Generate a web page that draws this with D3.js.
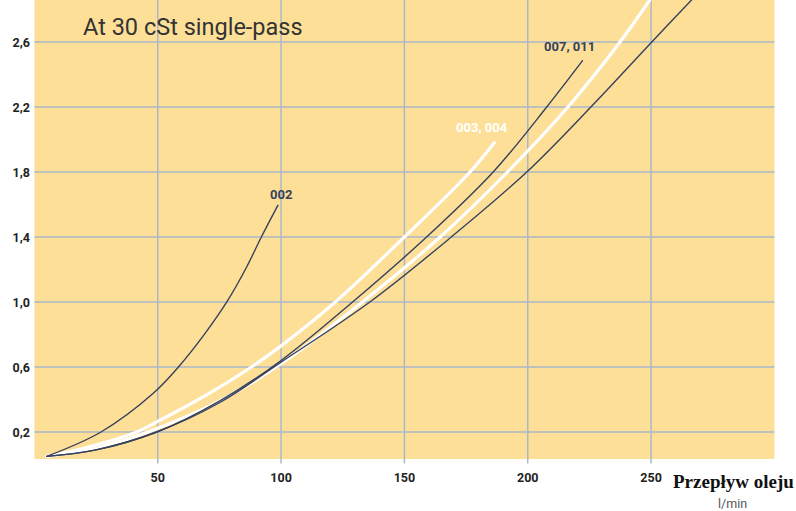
<!DOCTYPE html>
<html>
<head>
<meta charset="utf-8">
<script src="https://cdn.jsdelivr.net/npm/d3@7"></script>
<style>
  body { margin: 0; background: #fff; }
  svg { display: block; }
</style>
</head>
<body>
<script>
// ticks
var xTicks = [50, 100, 150, 200, 250];
var yTicks = [0.2, 0.6, 1.0, 1.4, 1.8, 2.2, 2.6];
var yTickLabels = ["0,2", "0,6", "1,0", "1,4", "1,8", "2,2", "2,6"];

// curves: [flow l/min, pressure]
var curve002 = [[5, 0.05], [27, 0.2], [48.2, 0.438], [58.4, 0.6], [69.2, 0.807], [78, 1.0], [86.1, 1.217], [92, 1.4], [98.7, 1.595]];
var curve003 = [[5, 0.05], [20, 0.1], [41.5, 0.2], [50, 0.265], [70, 0.43], [88, 0.6], [100, 0.73], [122, 1.0], [150, 1.4], [176.6, 1.8], [186.4, 1.98]];
var curve007 = [[5, 0.05], [25, 0.09], [49.6, 0.2], [75, 0.39], [100, 0.64], [129, 1.0], [159, 1.4], [186, 1.8], [207.7, 2.2], [222.2, 2.485]];
var curveWhite = [[5, 0.05], [25, 0.1], [46, 0.2], [75, 0.39], [100, 0.62], [133, 1.0], [164.5, 1.4], [191.8, 1.8], [216.3, 2.2], [237.4, 2.6], [249.5, 2.86]];
var curveLong = [[5, 0.05], [25, 0.09], [49.6, 0.2], [75, 0.38], [100, 0.63], [136, 1.0], [169, 1.4], [199.6, 1.8], [225.6, 2.2], [250.3, 2.6], [266.5, 2.86]];

var W = 796, H = 511;
var plot = {left: 34.4, right: 774.4, top: 0, bottom: 459};
var bg = '#fddf98', gridColor = '#aab9c9', dark = '#37415b';

var svg = d3.select('body').append('svg')
    .attr('width', W)
    .attr('height', H);

var x = d3.scaleLinear().domain([0, 300]).range([plot.left, plot.right]);
var y = d3.scaleLinear().domain([0.0338, 2.8585]).range([plot.bottom, plot.top]);

svg.append('rect')
    .attr('x', plot.left).attr('y', plot.top)
    .attr('width', plot.right - plot.left)
    .attr('height', plot.bottom - plot.top)
    .attr('fill', bg);

svg.append('defs').append('clipPath').attr('id', 'clip')
  .append('rect')
    .attr('x', plot.left).attr('y', plot.top)
    .attr('width', plot.right - plot.left)
    .attr('height', plot.bottom - plot.top);

// grid
svg.append('g').selectAll('line.h')
    .data(yTicks).enter().append('line')
    .attr('x1', plot.left).attr('x2', plot.right)
    .attr('y1', function(d){ return y(d); })
    .attr('y2', function(d){ return y(d); })
    .attr('stroke', gridColor).attr('stroke-width', 1.5);

svg.append('g').selectAll('line.v')
    .data(xTicks).enter().append('line')
    .attr('x1', function(d){ return x(d); })
    .attr('x2', function(d){ return x(d); })
    .attr('y1', plot.top).attr('y2', plot.bottom + 4.5)
    .attr('stroke', gridColor).attr('stroke-width', 1.5);

// tick labels
svg.append('g').selectAll('text')
    .data(yTicks).enter().append('text')
    .attr('x', 30)
    .attr('y', function(d){ return y(d); })
    .attr('dy', '0.38em')
    .attr('text-anchor', 'end')
    .attr('font-family', 'Roboto, sans-serif')
    .attr('font-weight', 'bold')
    .attr('font-size', 12.5)
    .attr('fill', '#222')
    .text(function(d, i){ return yTickLabels[i]; });

svg.append('g').selectAll('text')
    .data(xTicks).enter().append('text')
    .attr('x', function(d){ return x(d); })
    .attr('y', 482)
    .attr('text-anchor', 'middle')
    .attr('font-family', 'Roboto, sans-serif')
    .attr('font-weight', 'bold')
    .attr('font-size', 12.5)
    .attr('fill', '#222')
    .text(function(d){ return d; });

// curves
var line = d3.line()
    .x(function(d){ return x(d[0]); })
    .y(function(d){ return y(d[1]); })
    .curve(d3.curveCatmullRom.alpha(0.5));

var g = svg.append('g').attr('clip-path', 'url(#clip)');

function drawCurve(data, color, width) {
    g.append('path')
        .datum(data)
        .attr('d', line)
        .attr('fill', 'none')
        .attr('stroke', color)
        .attr('stroke-width', width)
        .attr('stroke-linecap', 'round');
}

drawCurve(curve003, '#ffffff', 3.2);
drawCurve(curveWhite, '#ffffff', 3.2);
drawCurve(curve002, dark, 1.4);
drawCurve(curve007, dark, 1.4);
drawCurve(curveLong, dark, 1.4);

// curve labels
function label(txt, px, py, color) {
    svg.append('text')
        .attr('x', px).attr('y', py)
        .attr('font-family', 'Roboto, sans-serif')
        .attr('font-weight', 'bold')
        .attr('font-size', 13)
        .attr('fill', color)
        .text(txt);
}
label('002', 270, 199, dark);
label('007, 011', 544, 51, dark);
label('003, 004', 456, 132, '#ffffff');

// title
svg.append('text')
    .attr('x', 83).attr('y', 35)
    .attr('font-family', 'Roboto, sans-serif')
    .attr('font-size', 23.5)
    .attr('fill', '#333')
    .text('At 30 cSt single-pass');

// axis name
svg.append('text')
    .attr('x', 673).attr('y', 488)
    .attr('font-family', '"Liberation Serif", serif')
    .attr('font-weight', 'bold')
    .attr('font-size', 19)
    .attr('fill', '#111')
    .text('Przepływ oleju');

svg.append('text')
    .attr('x', 718).attr('y', 508)
    .attr('font-family', 'Roboto, sans-serif')
    .attr('font-size', 12.5)
    .attr('fill', '#555')
    .text('l/min');
</script>
</body>
</html>
